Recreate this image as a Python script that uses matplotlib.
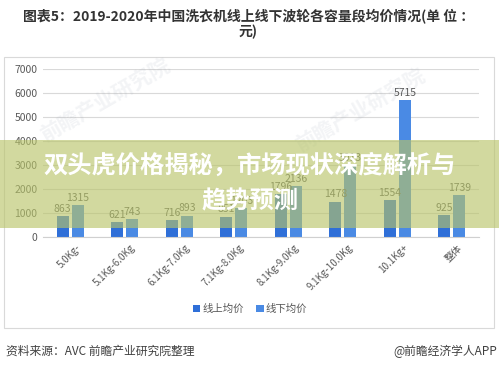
import numpy as np
import matplotlib.pyplot as plt
from matplotlib.patches import Rectangle

plt.rcParams['font.family'] = ['Noto Sans CJK SC', 'DejaVu Sans']

# data (yuan)
categories = ['5.0Kg-', '5.1Kg-6.0Kg', '6.1Kg-7.0Kg', '7.1Kg-8.0Kg',
              '8.1Kg-9.0Kg', '9.1Kg-10.0Kg', '10.1Kg+', '整体']
online = [863, 621, 716, 851, 1796, 1478, 1554, 925]
offline = [1315, 743, 893, 1203, 2136, 3013, 5715, 1739]
yticks = [0, 1000, 2000, 3000, 4000, 5000, 6000, 7000]

W, H = 499, 368

def fx(px):
    return px / W

def fy(py):
    return 1 - py / H

fig = plt.figure(figsize=(W / 100, H / 100), dpi=100)
fig.patch.set_facecolor('white')

# light frame round the chart
fig.add_artist(Rectangle((fx(4), fy(328)), fx(490), (328 - 57) / H,
                         transform=fig.transFigure, fill=False,
                         edgecolor='#D9D9D9', linewidth=0.8))

ax = fig.add_axes([fx(43), fy(237), fx(479) - fx(43), (237 - 69) / H])
x = np.arange(len(categories))
w = 0.22
off = 0.138
b1 = ax.bar(x - off, online, w, color='#2F6FD8', label='线上均价', zorder=2)
b2 = ax.bar(x + off, offline, w, color='#4A8AE4', label='线下均价', zorder=2)

for bars, vals in ((b1, online), (b2, offline)):
    for r, v in zip(bars, vals):
        ax.annotate(str(v), (r.get_x() + r.get_width() / 2, v),
                    xytext=(0, 1.5), textcoords='offset points',
                    ha='center', va='bottom', fontsize=7.5, color='#595959')

ax.set_xlim(-0.5, len(categories) - 0.5)
ax.set_ylim(0, 7000)
ax.set_yticks(yticks)
ax.set_yticklabels([str(t) for t in yticks], fontsize=7.5, color='#595959')
ax.set_xticks(x + 0.1)
ax.set_xticklabels(categories, rotation=45, ha='right', rotation_mode='anchor',
                   fontsize=7, color='#595959')
ax.tick_params(length=0, pad=4)
ax.grid(axis='y', color='#D9D9D9', linewidth=0.8, zorder=0)
for s in ('top', 'right', 'left'):
    ax.spines[s].set_visible(False)
ax.spines['bottom'].set_color('#D0D0D0')

fig.legend(handles=[b1, b2], loc='center', bbox_to_anchor=(fx(250), fy(309)),
           ncol=2, frameon=False, fontsize=7.5, handlelength=0.7,
           handleheight=0.7, handletextpad=0.2, columnspacing=1.2,
           labelcolor='#595959')

# faint watermarks
for (wx, wy) in [(105, 100), (360, 110)]:
    fig.text(fx(wx), fy(wy), '前瞻产业研究院', rotation=30, fontsize=15,
             color='#9AA5B5', alpha=0.12, ha='center', va='center',
             fontweight='bold')

# title
fig.text(fx(249), fy(17), '图表5：2019-2020年中国洗衣机线上线下波轮各容量段均价情况(单 位 ：',
         ha='center', va='center', fontsize=10, fontweight='bold', color='#333333')
fig.text(fx(248), fy(32), '元)', ha='center', va='center', fontsize=10,
         fontweight='bold', color='#333333')

# footer
fig.text(fx(6), fy(351), '资料来源：AVC 前瞻产业研究院整理', ha='left', va='center',
         fontsize=8.5, color='#404040')
fig.text(fx(497), fy(351), '@前瞻经济学人APP', ha='right', va='center',
         fontsize=8.5, color='#404040')

# overlay banner
fig.add_artist(Rectangle((0, fy(228)), 1, (228 - 140) / H,
                         transform=fig.transFigure, facecolor=(184/255, 196/255, 104/255),
                         alpha=0.63, edgecolor='none', zorder=10))
fig.text(fx(250), fy(166), '双头虎价格揭秘，市场现状深度解析与', ha='center', va='center',
         fontsize=17.5, fontweight='bold', color='white', zorder=11)
fig.text(fx(250), fy(201), '趋势预测', ha='center', va='center',
         fontsize=17.5, fontweight='bold', color='white', zorder=11)

fig.savefig('out.png', dpi=100)
